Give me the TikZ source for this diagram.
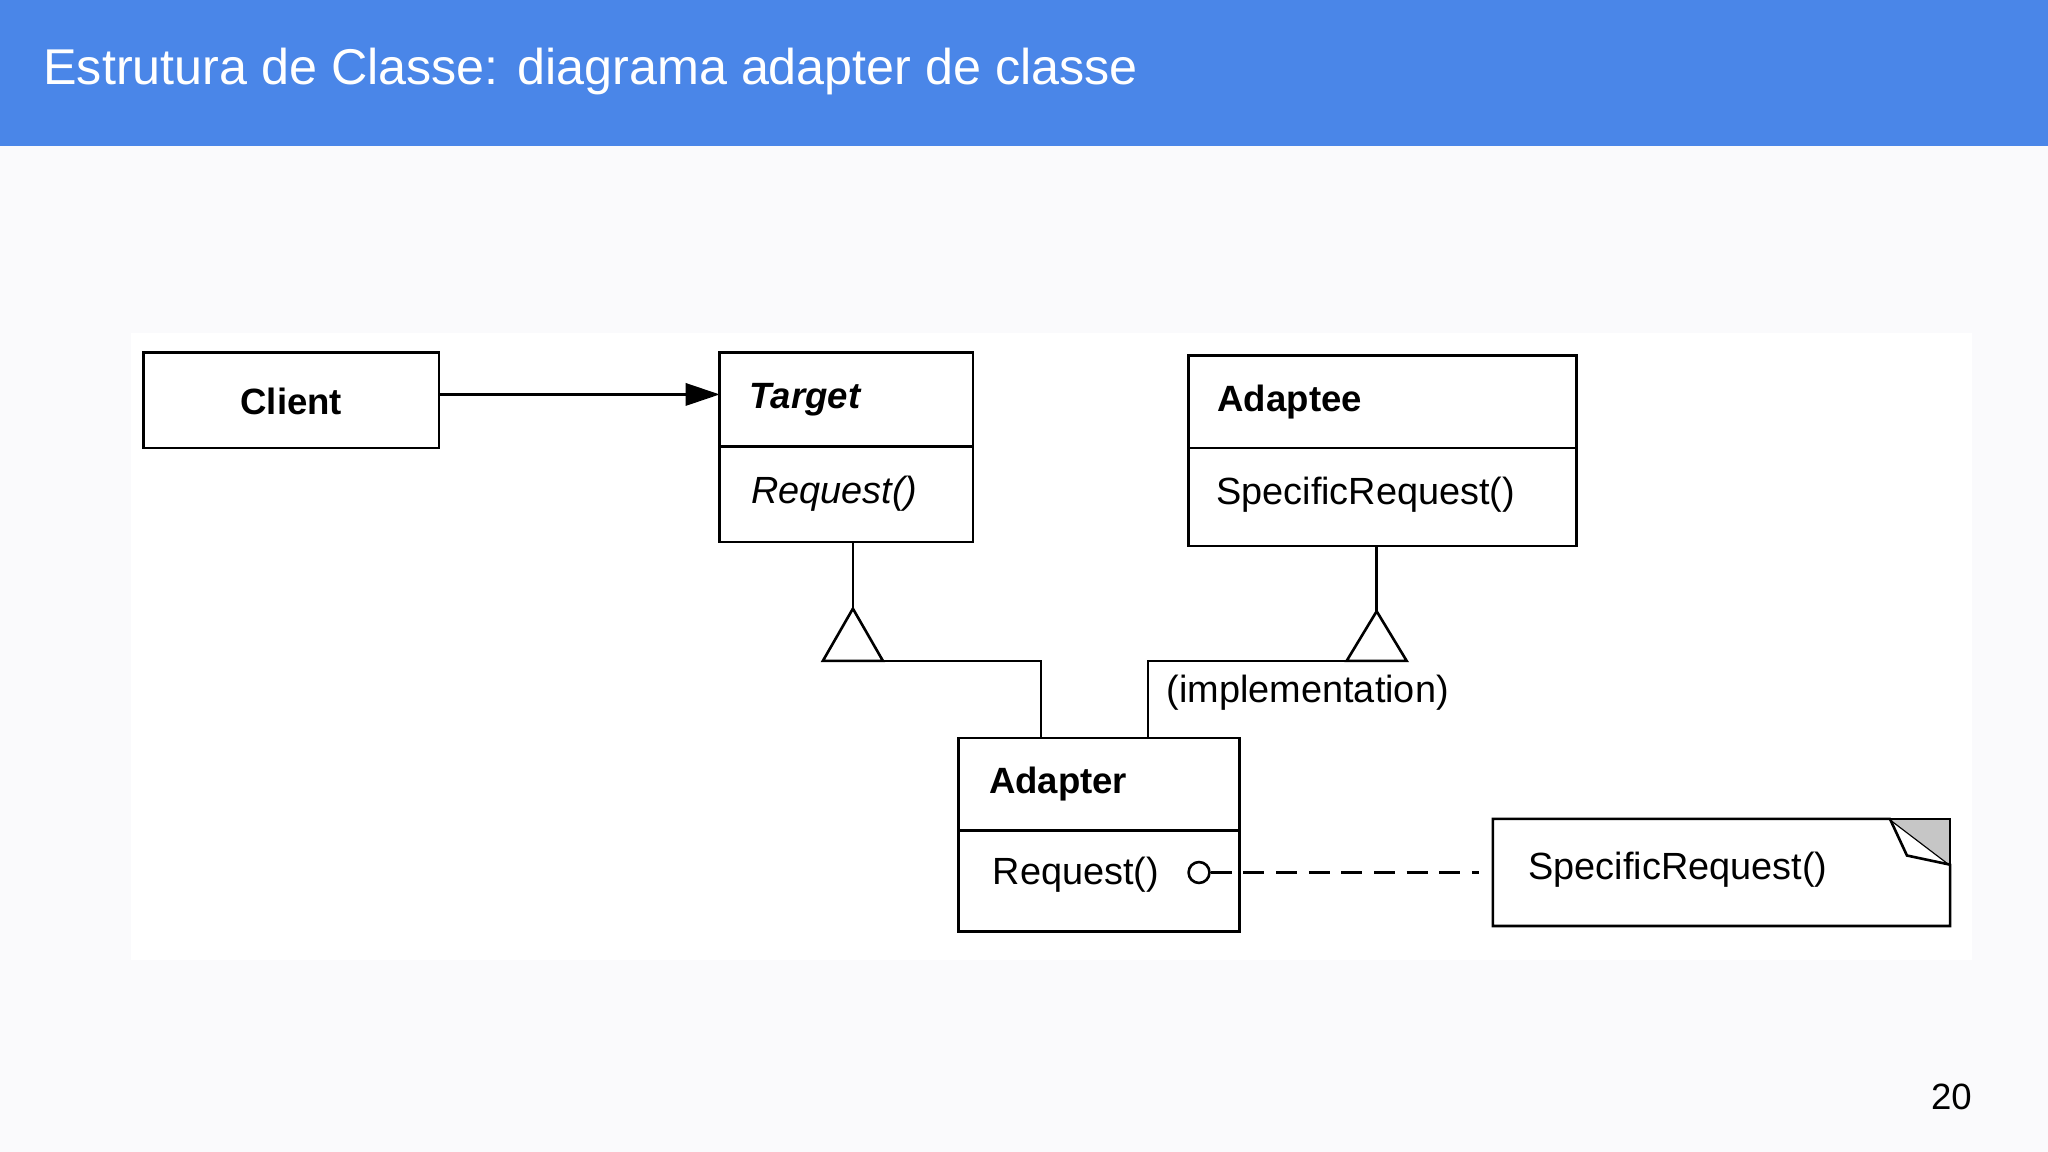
\documentclass[tikz,border=0pt]{standalone}
\usepackage{fontspec}
\setmainfont{Liberation Sans}
\usetikzlibrary{arrows.meta}
\definecolor{hdr}{HTML}{4A86E8}
\definecolor{bg}{HTML}{FAFAFC}
\tikzset{
  ln/.style={line width=2pt,black},
  box/.style={draw,line width=2pt,fill=white},
  lbl/.style={anchor=west,inner sep=0pt,font=\fontsize{29}{31}\selectfont},
}
\begin{document}
\begin{tikzpicture}[x=1pt,y=-1pt]
\useasboundingbox (0,0) rectangle (1568,882);
\fill[bg] (0,0) rectangle (1568,882);
\fill[white] (100,255) rectangle (1510,735);
\fill[hdr] (0,0) rectangle (1568,112);
\node[anchor=west,inner sep=0pt,text=white,font=\fontsize{38.5}{42}\selectfont] (title) at (33,55) {Estrutura de Classe: diagrama adapter de classe};
% Client
\draw[box] (110,270) rectangle (336,343);
\node[inner sep=0pt,font=\fontsize{28}{30}\selectfont\bfseries] (client) at (223,307) {Client};
\coordinate (ce) at (336,302);
% Target
\draw[box] (551,270) rectangle (745,415);
\draw[ln] (551,342) -- (745,342);
\node[lbl,font=\fontsize{28}{30}\selectfont\bfseries\itshape] (target) at (574,306) {Target};
\node[lbl,font=\fontsize{29}{31}\selectfont\itshape] (treq) at (575,378) {Request()};
\coordinate (tw) at (551,302);
\draw[ln,-{Triangle[length=26pt,width=17pt]}] (ce) -- (tw);
% Adaptee
\draw[box] (910,272) rectangle (1207,418);
\draw[ln] (910,343) -- (1207,343);
\node[lbl,font=\fontsize{28}{30}\selectfont\bfseries] (adaptee) at (932,308) {Adaptee};
\node[lbl] (areq) at (931,379) {SpecificRequest()};
% inheritance
\draw[ln] (653,415) -- (653,466);
\draw[ln] (653,466) -- (676,506) -- (630,506) -- cycle;
\draw[ln] (676,506) -- (797,506) -- (797,565);
\draw[ln] (1054,418) -- (1054,468);
\draw[ln] (1054,468) -- (1077,506) -- (1031,506) -- cycle;
\draw[ln] (1031,506) -- (879,506) -- (879,565);
\node[lbl] (impl) at (893,530) {(implementation)};
% Adapter
\draw[box] (734,565) rectangle (949,713);
\draw[ln] (734,636) -- (949,636);
\node[lbl,font=\fontsize{28}{30}\selectfont\bfseries] (adapter) at (757,600) {Adapter};
\node[lbl] (adreq) at (760,670) {Request()};
\node[draw,circle,line width=2pt,minimum size=16pt,inner sep=0pt] (circ) at (918,668) {};
% Note
\draw[box] (1143,627) -- (1447,627) -- (1493,662) -- (1493,709) -- (1143,709) -- cycle;
\fill[gray!45] (1447,627) -- (1493,627) -- (1493,662) -- cycle;
\draw[ln] (1447,627) -- (1493,627) -- (1493,662);
\draw[ln] (1447,627) -- (1460,655) -- (1493,662);
\node[lbl] (note) at (1170,666) {SpecificRequest()};
\coordinate (nw) at (1132,668);
\draw[ln,dash pattern=on 16pt off 9pt] (circ.east) -- (nw);
\node[inner sep=0pt,font=\fontsize{28}{30}\selectfont] (pg) at (1494,840) {20};
\end{tikzpicture}
\end{document}
